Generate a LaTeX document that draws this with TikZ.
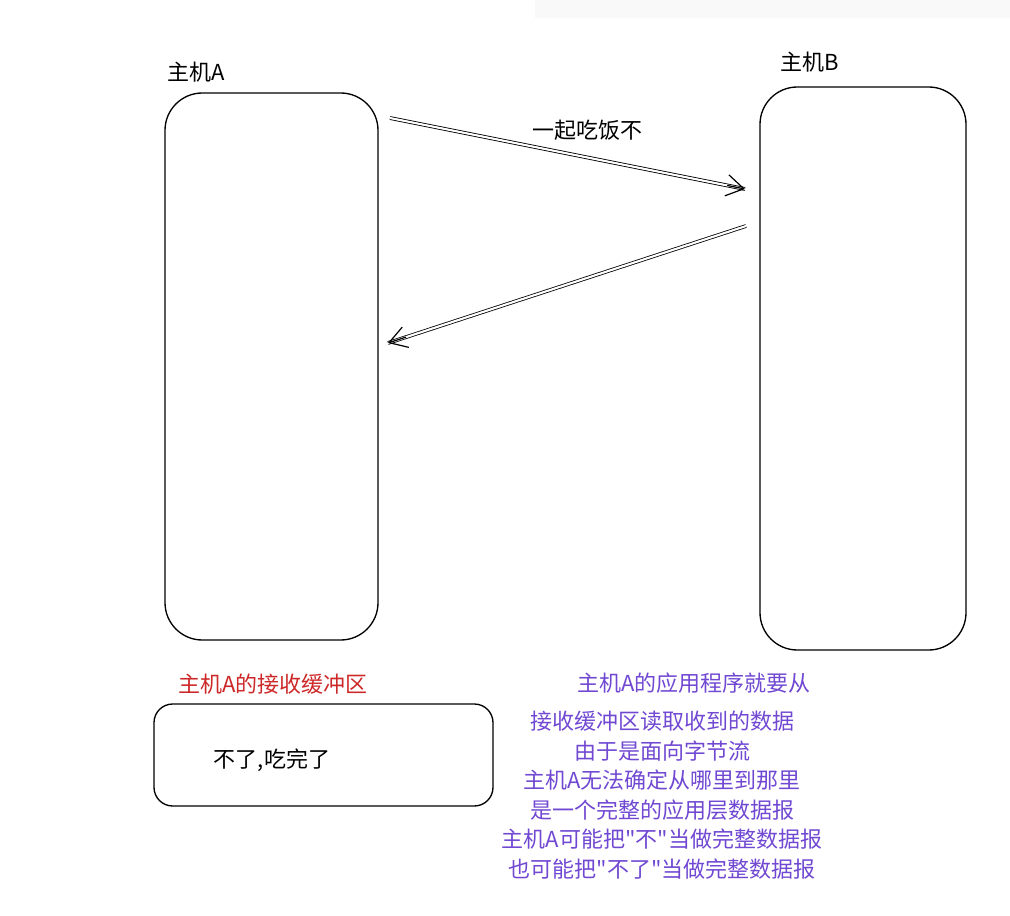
\documentclass[tikz,border=0pt]{standalone}
\usepackage{fontspec}
\newfontfamily\cjk{Noto Sans CJK SC}
\usetikzlibrary{arrows.meta,calc}
\definecolor{redlab}{RGB}{205,40,40}
\definecolor{purp}{RGB}{112,72,210}
\tikzset{
 host/.style={draw,line width=1pt,rounded corners=28pt},
 lab/.style={font=\cjk\fontsize{16.5pt}{18pt}\selectfont,inner sep=0pt},
 msg/.style={double,double distance=1.6pt,line width=0.6pt},
 tip/.style={line width=0.9pt,-{Straight Barb[length=13pt,width=16pt,line width=0.9pt]}}
}
\begin{document}
\begin{tikzpicture}[x=0.75pt,y=-0.75pt]
\useasboundingbox (0,0) rectangle (1010,916);
\fill[gray!5] (535,0) rectangle (1010,18);
\node[host,minimum width=213*0.75pt,minimum height=547*0.75pt] (A) at (271.5,366.5) {};
\node[host,minimum width=206*0.75pt,minimum height=563*0.75pt] (B) at (863,368.5) {};
\node[lab] (la) at (196,72) {主机A};
\node[lab] (lb) at (810,62) {主机B};
\coordinate (a1) at (390,118);
\coordinate (b1) at (745,189);
\coordinate (b2) at (746,226);
\coordinate (a2) at (388,343);
\draw[msg] (a1) -- (b1);
\draw[tip] ($(a1)!0.95!(b1)$) -- (b1);
\draw[msg] (b2) -- (a2);
\draw[tip] ($(b2)!0.95!(a2)$) -- (a2);
\node[lab] (m1) at (587,130) {一起吃饭不};
\node[lab,text=redlab] (rl) at (273,684) {主机A的接收缓冲区};
\node[draw,line width=1pt,rounded corners=14pt,minimum width=339*0.75pt,minimum height=102*0.75pt] (buf) at (323.5,755) {};
\node[lab] (bt) at (272,760) {不了,吃完了};
\node[lab,text=purp] at (694,683) {主机A的应用程序就要从};
\node[lab,text=purp] at (662,721) {接收缓冲区读取收到的数据};
\node[lab,text=purp] at (662,751) {由于是面向字节流};
\node[lab,text=purp] at (662,780) {主机A无法确定从哪里到那里};
\node[lab,text=purp] at (662,810) {是一个完整的应用层数据报};
\node[lab,text=purp] at (662,839) {主机A可能把"不"当做完整数据报};
\node[lab,text=purp] at (662,869) {也可能把"不了"当做完整数据报};
\end{tikzpicture}
\end{document}
